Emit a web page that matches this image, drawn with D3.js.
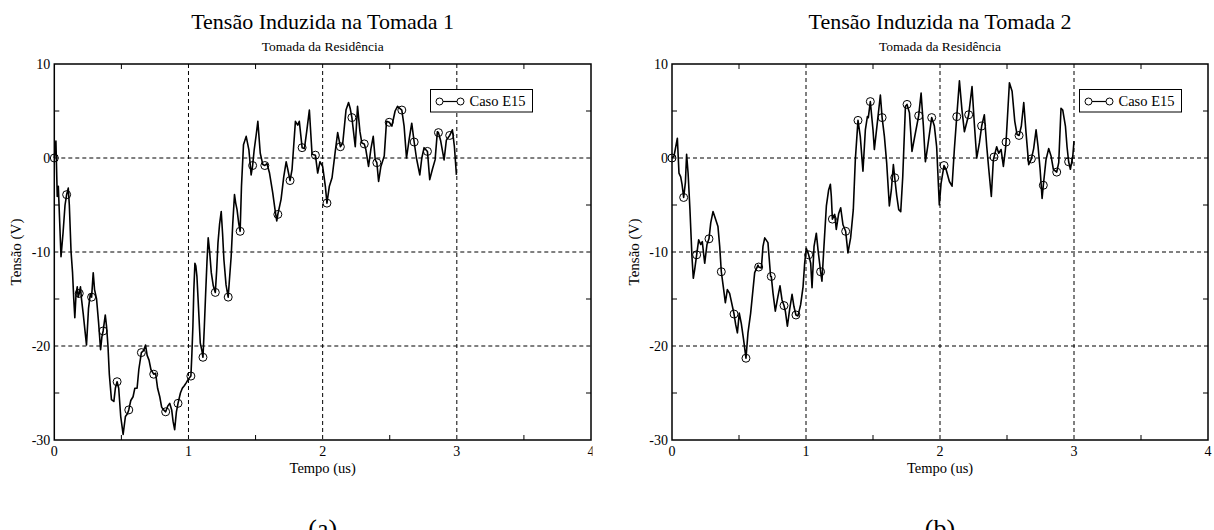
<!DOCTYPE html>
<html>
<head>
<meta charset="utf-8">
<script src="https://cdn.jsdelivr.net/npm/d3@7"></script>
<style>
  body { margin: 0; background: #fff; }
  svg { display: block; }
  text { font-family: "Liberation Serif", "Times New Roman", serif; fill: #000; }
</style>
</head>
<body>
<svg id="fig" width="1214" height="530"></svg>
<script>
// Axis ticks and grid positions
const xTicks = [0, 1, 2, 3, 4];
const yTicks = [10, 0, -10, -20, -30];
const xGrid = [1, 2, 3];
const yGrid = [0, -10, -20];
const xMinor = [0.5, 1.5, 2.5, 3.5];
const yMinor = [5, -5, -15, -25];

// Tensão induzida na tomada 1: [tempo (us), tensão (V)]
const tomada1 = [
  [0,0],[0.012,1.8],[0.022,-4.1],[0.03,-3.0],[0.05,-10.5],[0.065,-8],[0.08,-5],[0.092,-3.9],[0.104,-3.2],
  [0.112,-5],[0.125,-10],[0.136,-12.2],[0.145,-15],[0.153,-17],[0.162,-14.5],[0.171,-13.7],[0.178,-14.8],
  [0.186,-14.4],[0.195,-13.7],[0.202,-14.9],[0.215,-16.5],[0.24,-19.9],[0.255,-16],[0.268,-14.5],[0.278,-14.8],
  [0.29,-12.2],[0.3,-14],[0.315,-15],[0.33,-17.5],[0.345,-20.4],[0.355,-19],[0.364,-18.4],[0.38,-16.7],
  [0.39,-18],[0.4,-20],[0.41,-23],[0.426,-25.7],[0.444,-25.9],[0.455,-24.5],[0.468,-23.8],[0.48,-24.5],
  [0.495,-27.5],[0.513,-29.4],[0.53,-27.5],[0.545,-27.2],[0.555,-26.8],[0.57,-25.8],[0.587,-25.4],[0.6,-24.5],
  [0.617,-24.5],[0.63,-22.5],[0.649,-20.7],[0.665,-20.5],[0.68,-19.9],[0.692,-21],[0.706,-21.5],[0.72,-22.5],
  [0.741,-23.0],[0.755,-22.9],[0.77,-24.5],[0.786,-25.4],[0.8,-26.5],[0.815,-26.8],[0.83,-27.0],[0.845,-26.4],
  [0.86,-26.1],[0.875,-26.8],[0.885,-28],[0.897,-28.9],[0.91,-27],[0.922,-26.1],[0.94,-25],[0.954,-24.5],
  [0.97,-24.2],[0.984,-23.9],[1.0,-23.5],[1.018,-23.2],[1.025,-21],[1.033,-17.9],[1.04,-14],[1.048,-11.2],
  [1.055,-11.5],[1.063,-12.6],[1.075,-16],[1.088,-19.7],[1.1,-20.5],[1.108,-21.2],[1.118,-18],[1.128,-14.4],
  [1.138,-11],[1.147,-8.5],[1.158,-10],[1.17,-12.2],[1.185,-13.6],[1.2,-14.3],[1.21,-12],[1.22,-9],
  [1.232,-7],[1.244,-5.7],[1.254,-8],[1.264,-10.8],[1.28,-13.5],[1.296,-14.8],[1.305,-13],[1.318,-10.5],
  [1.33,-7],[1.343,-3.9],[1.352,-4.8],[1.362,-5.5],[1.375,-7],[1.385,-7.8],[1.395,-3],[1.41,1.4],
  [1.43,2.3],[1.45,0.9],[1.467,-1.8],[1.478,-0.8],[1.49,0.9],[1.505,2.5],[1.517,3.9],[1.535,0.5],
  [1.554,-0.7],[1.569,-0.8],[1.585,-0.6],[1.604,-1.6],[1.628,-3.7],[1.645,-5.5],[1.658,-6.7],[1.666,-6.0],
  [1.69,-4.4],[1.71,-2],[1.728,-0.4],[1.74,-1.2],[1.757,-2.4],[1.772,-1.2],[1.797,3.9],[1.814,3.5],
  [1.826,3.9],[1.847,1.1],[1.864,1.0],[1.881,2.8],[1.901,5.1],[1.921,0.4],[1.946,0.3],[1.963,-1.6],
  [1.98,-0.4],[2.0,-0.9],[2.02,-3.0],[2.032,-4.8],[2.05,-3.0],[2.07,-2.1],[2.094,0.7],[2.112,2.7],
  [2.132,1.2],[2.15,1.6],[2.174,5.1],[2.193,5.9],[2.205,5.3],[2.218,4.3],[2.243,1.2],[2.26,5.5],
  [2.278,2.8],[2.292,1.6],[2.31,1.5],[2.322,0.9],[2.342,-0.9],[2.36,1.0],[2.377,2.3],[2.392,-0.2],
  [2.404,-0.5],[2.417,-2.5],[2.434,-0.9],[2.459,0.2],[2.476,3.9],[2.496,3.8],[2.516,3.4],[2.54,5.0],
  [2.558,5.5],[2.59,5.1],[2.607,3.4],[2.625,0],[2.645,2.0],[2.664,3.7],[2.682,1.7],[2.699,0],
  [2.724,-1.8],[2.739,0],[2.756,1.1],[2.781,0.7],[2.798,-2.3],[2.818,-1.2],[2.838,-0.2],[2.855,2.8],
  [2.863,2.7],[2.88,1.8],[2.905,-0.2],[2.922,1.9],[2.947,2.4],[2.967,3.0],[2.982,1.2],[2.997,-1.8]
];
const marcas1 = [
  [0,0],[0.092,-3.9],[0.186,-14.4],[0.278,-14.8],[0.364,-18.4],[0.468,-23.8],[0.555,-26.8],[0.649,-20.7],
  [0.741,-23.0],[0.83,-27.0],[0.922,-26.1],[1.018,-23.2],[1.108,-21.2],[1.2,-14.3],[1.296,-14.8],[1.385,-7.8],
  [1.478,-0.8],[1.569,-0.8],[1.666,-6.0],[1.757,-2.4],[1.847,1.1],[1.946,0.3],[2.032,-4.8],[2.132,1.2],
  [2.218,4.3],[2.31,1.5],[2.404,-0.5],[2.496,3.8],[2.59,5.1],[2.682,1.7],[2.781,0.7],[2.863,2.7],[2.947,2.4]
];

// Tensão induzida na tomada 2: [tempo (us), tensão (V)]
const tomada2 = [
  [0,0],[0.015,0.2],[0.04,2.1],[0.052,-1.6],[0.065,-2.0],[0.075,-2.8],[0.087,-4.2],[0.1,-2.6],[0.109,0.4],
  [0.12,-1.6],[0.134,-5.5],[0.149,-10.5],[0.159,-12.8],[0.169,-11.9],[0.184,-10.3],[0.199,-8.7],[0.214,-9.2],
  [0.226,-8.9],[0.244,-11.2],[0.261,-9.2],[0.276,-8.6],[0.289,-6.9],[0.306,-5.7],[0.318,-6.2],[0.343,-7.3],
  [0.356,-9.4],[0.368,-12.1],[0.383,-13.7],[0.398,-15.4],[0.413,-14.0],[0.43,-14.4],[0.463,-16.6],[0.475,-17.7],
  [0.488,-18.6],[0.502,-16.5],[0.517,-17.6],[0.535,-19.4],[0.552,-21.3],[0.567,-18.6],[0.587,-16.5],[0.617,-12.2],
  [0.642,-11.4],[0.647,-11.6],[0.667,-11.7],[0.679,-9.4],[0.692,-8.5],[0.716,-9.0],[0.736,-12.6],[0.741,-12.6],
  [0.754,-14.4],[0.771,-16.3],[0.791,-14.7],[0.806,-13.6],[0.821,-15.1],[0.836,-15.7],[0.846,-16.3],[0.861,-17.9],
  [0.878,-16.1],[0.896,-14.5],[0.91,-15.8],[0.925,-16.7],[0.94,-16.8],[0.96,-15.6],[0.978,-13.7],[0.99,-11.2],
  [1.002,-9.6],[1.02,-10.3],[1.035,-11.2],[1.045,-13.8],[1.06,-9.4],[1.077,-8.0],[1.09,-9.8],[1.109,-12.1],
  [1.119,-13.1],[1.134,-9.4],[1.152,-5.1],[1.169,-3.4],[1.182,-2.8],[1.189,-4.1],[1.197,-6.5],[1.214,-6.0],
  [1.226,-7.6],[1.244,-5.9],[1.259,-5.3],[1.276,-7.1],[1.296,-7.8],[1.313,-10.1],[1.333,-8.5],[1.353,-5.5],
  [1.368,-0.2],[1.388,4.0],[1.405,2.3],[1.425,-1.4],[1.443,3.0],[1.458,4.4],[1.465,4.3],[1.48,6.0],
  [1.5,3.0],[1.51,0.9],[1.535,4.1],[1.555,6.7],[1.568,4.3],[1.585,2.3],[1.602,-0.5],[1.622,-5.1],
  [1.637,-3.4],[1.652,-0.7],[1.662,-2.1],[1.677,-4.0],[1.692,-5.5],[1.707,-5.7],[1.722,-2.0],[1.742,5.5],
  [1.754,5.7],[1.772,4.8],[1.791,0.7],[1.809,2.1],[1.841,4.5],[1.859,6.9],[1.876,3.4],[1.891,-0.4],
  [1.908,1.2],[1.938,4.3],[1.958,3.4],[1.975,1.2],[1.995,-5.0],[2.008,-2.7],[2.03,-0.8],[2.045,-1.2],
  [2.07,-2.5],[2.09,-3.0],[2.107,0.9],[2.125,4.4],[2.145,8.2],[2.164,5.1],[2.182,2.8],[2.214,4.6],
  [2.239,7.6],[2.256,3.7],[2.274,0],[2.294,1.6],[2.311,3.4],[2.331,4.6],[2.349,1.2],[2.364,-1.2],
  [2.383,-4.1],[2.398,-0.2],[2.403,0.1],[2.423,1.2],[2.438,0.5],[2.456,0.9],[2.473,-0.9],[2.488,0.9],
  [2.493,1.7],[2.518,8.0],[2.538,7.1],[2.558,3.9],[2.575,2.5],[2.59,2.4],[2.607,3.4],[2.625,5.9],
  [2.642,2.7],[2.662,-0.7],[2.682,-0.1],[2.699,1.0],[2.717,3.0],[2.732,1.2],[2.747,-1.2],[2.762,-4.3],
  [2.771,-2.9],[2.791,-0.2],[2.811,1.0],[2.829,0.2],[2.846,-1.2],[2.871,-1.5],[2.886,-0.5],[2.903,5.3],
  [2.916,5.1],[2.936,3.4],[2.948,1.2],[2.96,-0.4],[2.973,-1.2],[2.991,0.2],[3.0,1.8]
];
const marcas2 = [
  [0,0],[0.087,-4.2],[0.184,-10.3],[0.276,-8.6],[0.368,-12.1],[0.463,-16.6],[0.552,-21.3],[0.647,-11.6],
  [0.741,-12.6],[0.836,-15.7],[0.925,-16.7],[1.02,-10.3],[1.109,-12.1],[1.197,-6.5],[1.296,-7.8],[1.388,4.0],
  [1.48,6.0],[1.568,4.3],[1.662,-2.1],[1.754,5.7],[1.841,4.5],[1.938,4.3],[2.03,-0.8],[2.125,4.4],
  [2.214,4.6],[2.311,3.4],[2.403,0.1],[2.493,1.7],[2.59,2.4],[2.682,-0.1],[2.771,-2.9],[2.871,-1.5],[2.96,-0.4]
];

const titles = ["Tensão Induzida na Tomada 1", "Tensão Induzida na Tomada 2"];
const subtitle = "Tomada da Residência";
const legendLabel = "Caso E15";
const panelLabels = ["(a)", "(b)"];

const svg = d3.select("#fig");
const plotTop = 64, plotBottom = 440;

const panels = [
  { title: titles[0], serie: tomada1, marcas: marcas1, left: 54.3, right: 591, legendX: 430.5, label: panelLabels[0], clipX: 0, clipW: 592.5 },
  { title: titles[1], serie: tomada2, marcas: marcas2, left: 672, right: 1208, legendX: 1079.5, label: panelLabels[1], clipX: 600, clipW: 614 }
];

const defs = svg.append("defs");

panels.forEach((p, i) => {
  const clipId = "clip" + i;
  defs.append("clipPath").attr("id", clipId)
    .append("rect").attr("x", p.clipX).attr("y", 0).attr("width", p.clipW).attr("height", 530);

  const g = svg.append("g").attr("clip-path", `url(#${clipId})`);
  const x = d3.scaleLinear().domain([0, 4]).range([p.left, p.right]);
  const y = d3.scaleLinear().domain([-30, 10]).range([plotBottom, plotTop]);
  const cx = (p.left + p.right) / 2;

  // titles
  g.append("text").attr("x", cx).attr("y", 29).attr("text-anchor", "middle")
    .attr("font-size", 22).text(p.title);
  g.append("text").attr("x", cx).attr("y", 51).attr("text-anchor", "middle")
    .attr("font-size", 13.5).text(subtitle);

  // dashed grid
  g.selectAll(".gx").data(xGrid).join("line")
    .attr("x1", d => x(d)).attr("x2", d => x(d)).attr("y1", plotTop).attr("y2", plotBottom)
    .attr("stroke", "#000").attr("stroke-width", 1).attr("stroke-dasharray", "4,3");
  g.selectAll(".gy").data(yGrid).join("line")
    .attr("x1", p.left).attr("x2", p.right).attr("y1", d => y(d)).attr("y2", d => y(d))
    .attr("stroke", "#000").attr("stroke-width", 1).attr("stroke-dasharray", "4,3");

  // minor inward ticks on all four sides
  const tk = 5;
  xMinor.forEach(v => {
    g.append("line").attr("x1", x(v)).attr("x2", x(v)).attr("y1", plotBottom).attr("y2", plotBottom - tk).attr("stroke", "#000");
    g.append("line").attr("x1", x(v)).attr("x2", x(v)).attr("y1", plotTop).attr("y2", plotTop + tk).attr("stroke", "#000");
  });
  yMinor.forEach(v => {
    g.append("line").attr("x1", p.left).attr("x2", p.left + tk).attr("y1", y(v)).attr("y2", y(v)).attr("stroke", "#000");
    g.append("line").attr("x1", p.right).attr("x2", p.right - tk).attr("y1", y(v)).attr("y2", y(v)).attr("stroke", "#000");
  });

  // series
  const line = d3.line().x(d => x(d[0])).y(d => y(d[1]));
  g.append("path").datum(p.serie).attr("d", line)
    .attr("fill", "none").attr("stroke", "#000").attr("stroke-width", 1.6)
    .attr("stroke-linejoin", "round");
  g.selectAll(".m").data(p.marcas).join("circle")
    .attr("cx", d => x(d[0])).attr("cy", d => y(d[1])).attr("r", 4)
    .attr("fill", "none").attr("stroke", "#000").attr("stroke-width", 1);

  // frame
  g.append("rect").attr("x", p.left).attr("y", plotTop)
    .attr("width", p.right - p.left).attr("height", plotBottom - plotTop)
    .attr("fill", "none").attr("stroke", "#000").attr("stroke-width", 1.5);

  // tick labels
  g.selectAll(".yl").data(yTicks).join("text")
    .attr("x", p.left - 4).attr("y", d => y(d) + 5).attr("text-anchor", "end")
    .attr("font-size", 14).text(d => d);
  g.selectAll(".xl").data(xTicks).join("text")
    .attr("x", d => x(d)).attr("y", plotBottom + 15.5).attr("text-anchor", "middle")
    .attr("font-size", 14).text(d => d);

  // axis titles
  g.append("text").attr("x", cx).attr("y", 473).attr("text-anchor", "middle")
    .attr("font-size", 14.5).text("Tempo (us)");
  g.append("text").attr("transform", `translate(${p.left - 33},${(plotTop + plotBottom) / 2}) rotate(-90)`)
    .attr("text-anchor", "middle").attr("font-size", 15).text("Tensão (V)");

  // legend
  const lx = p.legendX, ly = 89.5, lw = 102, lh = 22.5;
  g.append("rect").attr("x", lx).attr("y", ly).attr("width", lw).attr("height", lh)
    .attr("fill", "#fff").attr("stroke", "#000").attr("stroke-width", 1);
  g.append("line").attr("x1", lx + 9).attr("x2", lx + 30).attr("y1", ly + 12).attr("y2", ly + 12)
    .attr("stroke", "#000").attr("stroke-width", 1.2);
  [lx + 9, lx + 30].forEach(c => g.append("circle").attr("cx", c).attr("cy", ly + 12).attr("r", 3.5)
    .attr("fill", "#fff").attr("stroke", "#000").attr("stroke-width", 1));
  g.append("text").attr("x", lx + 39).attr("y", ly + 16.5).attr("font-size", 14.5).text(legendLabel);

  // panel label
  g.append("text").attr("x", cx).attr("y", 537).attr("text-anchor", "middle")
    .attr("font-size", 26).text(p.label);
});
</script>
</body>
</html>
